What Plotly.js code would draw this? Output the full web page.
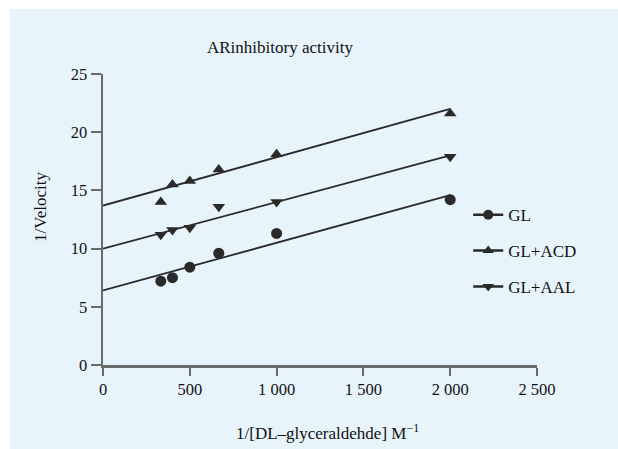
<!DOCTYPE html>
<html>
<head>
<meta charset="utf-8">
<script src="https://cdn.plot.ly/plotly-3.0.1.min.js"></script>
<style>
  html, body { margin: 0; padding: 0; background: #ffffff; width: 618px; height: 449px; overflow: hidden; }
  #chart { position: absolute; left: 10px; top: 9px; width: 608px; height: 440px; }
</style>
</head>
<body>
<div id="chart"></div>
<script>
// ---- data ----
const substrateInv = [333, 400, 500, 667, 1000, 2000];   // 1/[DL-glyceraldehyde]
const velGL  = [7.2, 7.5, 8.4, 9.6, 11.3, 14.2];
const velACD = [14.0, 15.5, 15.8, 16.8, 18.1, 21.6];
const velAAL = [11.2, 11.6, 11.8, 13.6, 14.0, 17.9];

// regression lines (endpoints)
const fitX   = [0, 2000];
const fitGL  = [6.4, 14.6];
const fitACD = [13.7, 22.0];
const fitAAL = [10.0, 18.0];

const seriesNames = ['GL', 'GL+ACD', 'GL+AAL'];
const xTickVals = [0, 500, 1000, 1500, 2000, 2500];
const xTickText = ['0', '500', '1 000', '1 500', '2 000', '2 500'];
const yTickVals = [0, 5, 10, 15, 20, 25];

const ink = '#2a2a2a';
const fontFam = '"Liberation Serif", "Times New Roman", serif';

const series = [
  {name: seriesNames[0], y: velGL,  fit: fitGL,  sym: 'circle',        legend: 'legend'},
  {name: seriesNames[1], y: velACD, fit: fitACD, sym: 'triangle-up',   legend: 'legend2'},
  {name: seriesNames[2], y: velAAL, fit: fitAAL, sym: 'triangle-down', legend: 'legend3'}
];

const traces = [];
series.forEach(s => {
  traces.push({x: fitX, y: s.fit, mode: 'lines', line: {color: ink, width: 1.8},
               showlegend: false, hoverinfo: 'skip'});
  traces.push({x: substrateInv, y: s.y, mode: 'markers', name: s.name,
               marker: {symbol: s.sym, size: 11, color: ink}, showlegend: false});
  traces.push({x: [null], y: [null], mode: 'lines+markers', name: s.name, legend: s.legend,
               line: {color: ink, width: 2.5}, marker: {symbol: s.sym, size: 10, color: ink},
               showlegend: true});
});

function legendAt(y) {
  return {x: 0.8415, y: y, xanchor: 'left', yanchor: 'middle', bgcolor: 'rgba(0,0,0,0)',
          borderwidth: 0, font: {family: fontFam, size: 17, color: '#111'}};
}

const layout = {
  width: 608, height: 440,
  paper_bgcolor: '#e8f4fc', plot_bgcolor: '#e8f4fc',
  margin: {l: 93, r: 81, t: 65, b: 84},
  font: {family: fontFam, size: 17, color: '#111'},
  title: {text: 'ARinhibitory activity', x: 0.444, xref: 'container', y: 0.9136, yref: 'container',
          xanchor: 'center', yanchor: 'middle', font: {family: fontFam, size: 17, color: '#111'}},
  xaxis: {range: [0, 2500], tickvals: xTickVals, ticktext: xTickText, showgrid: false, zeroline: false,
          showline: true, linecolor: '#6a6a6a', linewidth: 2.5, ticks: 'outside', ticklen: 8,
          tickwidth: 2, tickcolor: '#6a6a6a', tickfont: {family: fontFam, size: 16.5, color: '#111'},
          fixedrange: true},
  yaxis: {range: [0, 25], tickvals: yTickVals, showgrid: false, zeroline: false,
          showline: true, linecolor: '#6a6a6a', linewidth: 2.5, ticks: 'outside', ticklen: 10,
          tickwidth: 2, tickcolor: '#6a6a6a', tickfont: {family: fontFam, size: 16.5, color: '#111'},
          fixedrange: true},
  legend: legendAt(0.515),
  legend2: legendAt(0.392),
  legend3: legendAt(0.268),
  annotations: [
    {text: '1/[DL\u2013glyceraldehde] M<sup>\u22121</sup>', xref: 'paper', yref: 'paper', x: 0.518, y: -0.23,
     xanchor: 'center', yanchor: 'middle', showarrow: false, font: {family: fontFam, size: 17, color: '#111'}},
    {text: '1/Velocity', xref: 'paper', yref: 'paper', x: -0.143, y: 0.543, textangle: -90,
     xanchor: 'center', yanchor: 'middle', showarrow: false, font: {family: fontFam, size: 17, color: '#111'}}
  ],
  showlegend: true
};

Plotly.newPlot('chart', traces, layout, {displayModeBar: false, staticPlot: true});
</script>
</body>
</html>
